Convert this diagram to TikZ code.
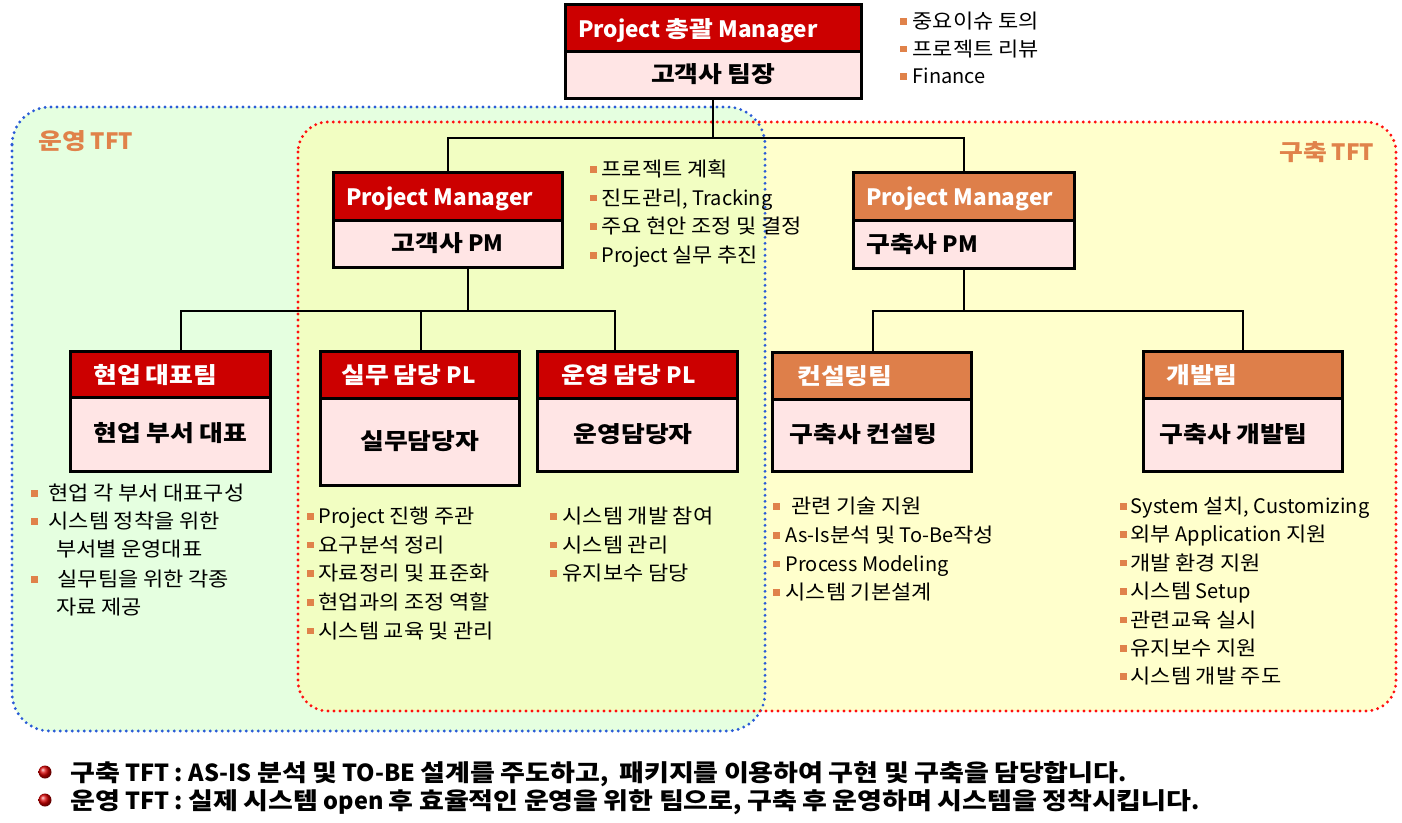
\documentclass[tikz,border=0pt]{standalone}
\usepackage{fontspec}
\setmainfont{Noto Sans CJK KR}
\newfontfamily\hangulfam{Noto Sans CJK KR}[FakeStretch=1.10, BoldFeatures={FakeStretch=1.15}]
\newXeTeXintercharclass\HangulClass
\newcount\hcnt
\hcnt="AC00
\loop
  \XeTeXcharclass\hcnt=\HangulClass
  \advance\hcnt by 1
  \ifnum\hcnt<"D7A4
\repeat
\XeTeXinterchartoks 0 \HangulClass = {\begingroup\hangulfam}
\XeTeXinterchartoks 4095 \HangulClass = {\begingroup\hangulfam}
\XeTeXinterchartoks \HangulClass 0 = {\endgroup}
\XeTeXinterchartoks \HangulClass 4095 = {\endgroup}
\definecolor{hred}{HTML}{CC0000}
\definecolor{horange}{HTML}{DE7F4A}
\definecolor{bodypink}{HTML}{FFE5E5}
\definecolor{greenbg}{HTML}{E5FFE0}
\definecolor{yellowbg}{HTML}{FFFFCC}
\definecolor{overlapbg}{HTML}{F2FEC2}
\definecolor{bulc}{HTML}{E0824A}
\definecolor{tftc}{HTML}{E0824A}
\definecolor{bluedot}{HTML}{2A5BD7}
\definecolor{reddot}{HTML}{FF1010}
\newcommand\bul{\textcolor{bulc}{\rule[0.2em]{6.5pt}{6.5pt}}}
\tikzset{
  boxline/.style={draw=black, line width=2.5pt, rectangle, inner sep=0pt, anchor=north west},
  hdrred/.style={boxline, fill=hred},
  hdrorg/.style={boxline, fill=horange},
  bodybox/.style={boxline, fill=bodypink},
  hdrtext/.style={text=white, font=\fontsize{22.5}{26}\selectfont\bfseries, inner sep=0pt, anchor=west, text height=17pt, text depth=5pt},
  bodytext/.style={text=black, font=\fontsize{22.5}{26}\selectfont\bfseries, inner sep=0pt, text height=17pt, text depth=5pt},
  item/.style={font=\fontsize{20}{24}\selectfont, inner sep=0pt, anchor=west, text height=15pt, text depth=4pt, yshift=-2pt},
  conn/.style={draw=black, line width=2pt},
  tftlabel/.style={text=tftc, font=\fontsize{22.5}{26}\selectfont\bfseries, inner sep=0pt, anchor=west},
  note/.style={font=\fontsize{23.5}{27}\selectfont\bfseries, inner sep=0pt, anchor=west, text height=17pt, text depth=5pt, yshift=-2pt},
  dotb/.style={draw=bluedot, line width=3.2pt, line cap=round, dash pattern=on 0pt off 6pt, rounded corners=38pt},
  dotr/.style={draw=reddot, line width=3.2pt, line cap=round, dash pattern=on 0pt off 6pt, rounded corners=30pt},
  ball/.style={circle, minimum size=13pt, inner sep=0pt, ball color=red!85!black}
}
\begin{document}
\XeTeXinterchartokenstate=1
\begin{tikzpicture}[x=1pt, y=-1pt]
\useasboundingbox (0,0) rectangle (1402,822);
% team regions
\fill[greenbg, rounded corners=38pt] (12,107) rectangle (765,731);
\fill[yellowbg, rounded corners=30pt] (298,122) rectangle (1396,711);
\begin{scope}
  \clip[rounded corners=38pt] (12,107) rectangle (765,731);
  \fill[overlapbg, rounded corners=30pt] (298,122) rectangle (1396,711);
\end{scope}
\draw[dotb] (12,107) rectangle (765,731);
\draw[dotr] (298,122) rectangle (1396,711);
\node[tftlabel] (tftop) at (38,141.5) {운영 TFT};
\node[tftlabel] (tftbuild) at (1279,152.5) {구축 TFT};

% top box
\node[bodybox, minimum width=296pt, minimum height=47pt] (top-b) at (564,50) {};
\node[hdrred, minimum width=296pt, minimum height=47pt] (top-h) at (564,3) {};
\node[hdrtext] (top-ht) at ([xshift=14pt,yshift=-3.5pt]top-h.west) {Project 총괄 Manager};
\node[bodytext] (top-bt) at ([yshift=-1.5pt]top-b.center) {고객사 팀장};

% PM boxes
\node[bodybox, minimum width=229pt, minimum height=47pt] (pml-b) at (332,219) {};
\node[hdrred, minimum width=229pt, minimum height=48pt] (pml-h) at (332,171) {};
\node[hdrtext] (pml-ht) at ([xshift=14pt,yshift=-3.5pt]pml-h.west) {Project Manager};
\node[bodytext] (pml-bt) at ([yshift=-1.5pt]pml-b.center) {고객사 PM};

\node[bodybox, minimum width=221pt, minimum height=48pt] (pmr-b) at (852,219) {};
\node[hdrorg, minimum width=221pt, minimum height=48pt] (pmr-h) at (852,171) {};
\node[hdrtext] (pmr-ht) at ([xshift=14pt,yshift=-3.5pt]pmr-h.west) {Project Manager};
\node[bodytext, anchor=west] (pmr-bt) at ([xshift=14pt,yshift=-2.5pt]pmr-b.west) {구축사 PM};

% level 3 boxes
\node[bodybox, minimum width=200pt, minimum height=74pt] (hy-b) at (69,396) {};
\node[hdrred, minimum width=200pt, minimum height=46pt] (hy-h) at (69,350) {};
\node[hdrtext] (hy-ht) at ([xshift=24pt,yshift=-3pt]hy-h.west) {현업 대표팀};
\node[bodytext] (hy-bt) at ([yshift=-1.5pt]hy-b.center) {현업 부서 대표};

\node[bodybox, minimum width=199pt, minimum height=87pt] (sm-b) at (319,397) {};
\node[hdrred, minimum width=199pt, minimum height=47pt] (sm-h) at (319,350) {};
\node[hdrtext] (sm-ht) at ([xshift=22pt,yshift=-3pt]sm-h.west) {실무 담당 PL};
\node[bodytext] (sm-bt) at ([yshift=-1.5pt]sm-b.center) {실무담당자};

\node[bodybox, minimum width=200pt, minimum height=73pt] (op-b) at (536,397) {};
\node[hdrred, minimum width=200pt, minimum height=47pt] (op-h) at (536,350) {};
\node[hdrtext] (op-ht) at ([xshift=25pt,yshift=-3pt]op-h.west) {운영 담당 PL};
\node[bodytext] (op-bt) at ([xshift=-4pt,yshift=-1.5pt]op-b.center) {운영담당자};

\node[bodybox, minimum width=199pt, minimum height=72pt] (cs-b) at (771,398) {};
\node[hdrorg, minimum width=199pt, minimum height=47pt] (cs-h) at (771,351) {};
\node[hdrtext] (cs-ht) at ([xshift=26pt,yshift=-3pt]cs-h.west) {컨설팅팀};
\node[bodytext] (cs-bt) at ([xshift=-8pt,yshift=-1.5pt]cs-b.center) {구축사 컨설팅};

\node[bodybox, minimum width=199pt, minimum height=73pt] (dv-b) at (1142,397) {};
\node[hdrorg, minimum width=199pt, minimum height=47pt] (dv-h) at (1142,350) {};
\node[hdrtext] (dv-ht) at ([xshift=24pt,yshift=-3pt]dv-h.west) {개발팀};
\node[bodytext] (dv-bt) at ([xshift=-9pt,yshift=-1.5pt]dv-b.center) {구축사 개발팀};

% connectors
\draw[conn] (top-b.south) -- ++(0,38) coordinate (j1);
\draw[conn] (j1) -| (pml-h.north);
\draw[conn] (j1) -| (pmr-h.north);
\draw[conn] ([xshift=20pt]pml-b.south) -- ++(0,42) coordinate (j2);
\draw[conn] (j2) -| ([xshift=11pt]hy-h.north);
\draw[conn] (j2) -| ([xshift=1pt]sm-h.north);
\draw[conn] (j2) -| ([xshift=-22pt]op-h.north);
\draw[conn] (pmr-b.south) -- ++(0,41) coordinate (j3);
\draw[conn] (j3) -| ([xshift=1pt]cs-h.north);
\draw[conn] (j3) -| (dv-h.north);

% bullet lists
\foreach \t [count=\i, evaluate=\i as \yy using 21+27.5*(\i-1)] in {중요이슈 토의, 프로젝트 리뷰, Finance}
  \node[item] (tb\i) at (900,\yy) {\bul\hspace{6pt}\t};
\foreach \t [count=\i, evaluate=\i as \yy using 169+28.7*(\i-1)] in {프로젝트 계획, {진도관리, Tracking}, 주요 현안 조정 및 결정, Project 실무 추진}
  \node[item] (mb\i) at (590,\yy) {\bul\hspace{5pt}\t};
\node[item] (lb1) at (31,493) {\bul\hspace{11pt}현업 각 부서 대표구성};
\node[item] (lb2) at (31,521) {\bul\hspace{11pt}시스템 정착을 위한};
\node[item] (lb3) at (56,549) {부서별 운영대표};
\node[item] (lb4) at (31,579) {\bul\hspace{20pt}실무팀을 위한 각종};
\node[item] (lb5) at (56,607) {자료 제공};
\foreach \t [count=\i, evaluate=\i as \yy using 516+28.7*(\i-1)] in {Project 진행 주관, 요구분석 정리, 자료정리 및 표준화, 현업과의 조정 역할, 시스템 교육 및 관리}
  \node[item] (sb\i) at (307,\yy) {\bul\hspace{5pt}\t};
\foreach \t [count=\i, evaluate=\i as \yy using 516+28.5*(\i-1)] in {시스템 개발 참여, 시스템 관리, 유지보수 담당}
  \node[item] (ob\i) at (550,\yy) {\bul\hspace{6pt}\t};
\node[item] (cb1) at (773,506) {\bul\hspace{12pt}관련 기술 지원};
\foreach \t [count=\i, evaluate=\i as \yy using 535+28.7*(\i-1)] in {As-Is분석 및 To-Be작성, Process Modeling, 시스템 기본설계}
  \node[item] (cb\i x) at (773,\yy) {\bul\hspace{6pt}\t};
\foreach \t [count=\i, evaluate=\i as \yy using 506+28.4*(\i-1)] in {{System 설치, Customizing}, 외부 Application 지원, 개발 환경 지원, 시스템 Setup, 관련교육 실시, 유지보수 지원, 시스템 개발 주도}
  \node[item] (db\i) at (1120,\yy) {\bul\hspace{4pt}\t};

% notes
\node[ball] (n1b) at (45,772) {};
\node[ball] (n2b) at (45,800) {};
\node[note] (n1) at (70,773) {구축 TFT : AS-IS 분석 및 TO-BE 설계를 주도하고,\ \ 패키지를 이용하여 구현 및 구축을 담당합니다.};
\node[note] (n2) at (70,801) {운영 TFT : 실제 시스템 open 후 효율적인 운영을 위한 팀으로, 구축 후 운영하며 시스템을 정착시킵니다.};
\end{tikzpicture}
\end{document}
